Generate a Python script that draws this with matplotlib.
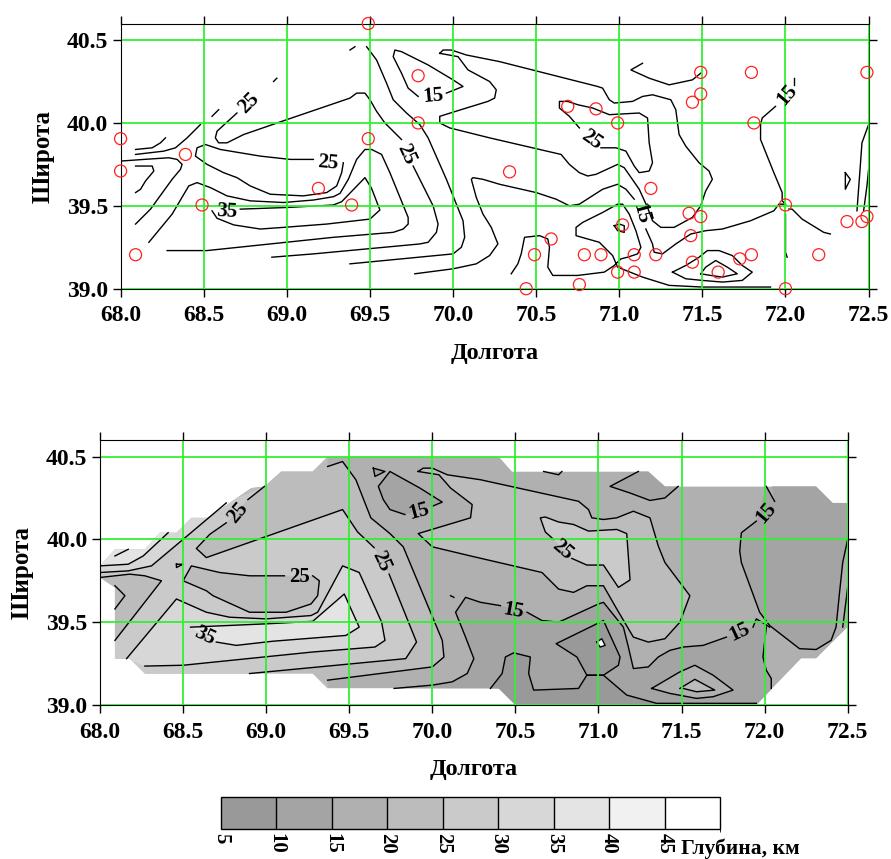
import numpy as np
import matplotlib
matplotlib.use('Agg')
import matplotlib.pyplot as plt
from matplotlib.cm import ScalarMappable
from matplotlib.colors import BoundaryNorm, ListedColormap
from matplotlib.patches import Polygon

plt.rcParams['font.family'] = ['Liberation Serif', 'DejaVu Serif']

# colour scale (depth, km)
levels = [5, 10, 15, 20, 25, 30, 35, 40, 45, 50]
tick_levels = [5, 10, 15, 20, 25, 30, 35, 40, 45]
shades = ['#999999', '#a4a4a4', '#b0b0b0', '#bcbcbc', '#cacaca', '#d7d7d7', '#e4e4e4', '#f1f1f1', '#ffffff']

lon_ticks = [68.0, 68.5, 69.0, 69.5, 70.0, 70.5, 71.0, 71.5, 72.0, 72.5]
lat_ticks = [39.0, 39.5, 40.0, 40.5]

# stations, top map
st_lon = [69.49, 69.79, 69.79, 69.49, 68.0, 68.39, 68.0, 69.19, 68.49, 69.39, 68.09,
          71.49, 71.795, 72.49, 71.49, 71.44, 70.69, 70.86, 70.99, 71.81, 70.34, 71.19,
          72.0, 71.42, 71.49, 72.49, 72.37, 72.46, 71.02, 71.43, 70.59, 70.49, 70.79,
          70.89, 71.09, 71.22, 71.795, 72.2, 71.725, 71.44, 70.99, 71.09, 71.595, 70.76,
          70.44, 72.0]
st_lat = [40.6, 40.285, 40.0, 39.905, 39.905, 39.81, 39.71, 39.605, 39.505, 39.505, 39.205,
          40.305, 40.305, 40.305, 40.175, 40.125, 40.1, 40.085, 40.0, 40.0, 39.705, 39.605,
          39.505, 39.455, 39.435, 39.435, 39.405, 39.405, 39.385, 39.32, 39.3, 39.205, 39.205,
          39.205, 39.205, 39.205, 39.205, 39.205, 39.18, 39.16, 39.1, 39.1, 39.1, 39.025,
          39.0, 39.0]

# isolines of the top map, (lon, lat)
t_a1 = [(69.38, 40.44), (69.41, 40.46)]
t_a2 = [(68.92, 40.25), (68.94, 40.27)]
t_a3 = [(68.55, 40.04), (68.59, 40.08)]
t_a4 = [(68.70, 40.06), (68.58, 39.95), (68.57, 39.91), (68.59, 39.88), (68.64, 39.88), (68.74, 39.93),
        (69.0, 40.02), (69.38, 40.15), (69.42, 40.18), (69.47, 40.18), (69.50, 40.14), (69.54, 40.07),
        (69.59, 40.0), (69.64, 39.95), (69.69, 39.90)]
t_a5 = [(69.76, 39.74), (69.88, 39.5), (69.91, 39.39), (69.90, 39.34), (69.85, 39.28), (69.80, 39.27),
        (69.48, 39.24), (69.16, 39.21), (68.91, 39.19)]
t_b = [(69.48, 40.46), (69.54, 40.38), (69.60, 40.24), (69.64, 40.14), (69.72, 40.06), (69.80, 39.99),
       (69.85, 39.91), (69.96, 39.66), (70.06, 39.41), (70.07, 39.31), (70.05, 39.25), (70.0, 39.21),
       (69.38, 39.15)]
t_c1 = [(69.77, 39.09), (70.0, 39.12), (70.14, 39.15), (70.22, 39.20), (70.27, 39.27), (70.23, 39.37),
        (70.18, 39.45), (70.14, 39.55), (70.11, 39.66), (70.12, 39.67), (70.18, 39.66), (70.28, 39.63),
        (70.5, 39.58), (70.62, 39.54), (70.70, 39.50), (70.76, 39.51), (70.90, 39.60), (70.99, 39.63),
        (71.04, 39.60), (71.09, 39.54)]
t_c2 = [(71.16, 39.36), (71.20, 39.27), (71.21, 39.22), (71.26, 39.21), (71.34, 39.27), (71.43, 39.33),
        (71.52, 39.35), (71.62, 39.36), (71.79, 39.41), (71.93, 39.47), (71.96, 39.51), (72.0, 39.51)]
t_d = [(69.96, 40.18), (70.06, 40.22), (70.0, 40.26), (69.85, 40.35), (69.69, 40.43), (69.65, 40.44),
       (69.64, 40.40), (69.69, 40.30), (69.73, 40.21), (69.79, 40.16)]
t_f = [(69.92, 40.42), (69.94, 40.44), (69.99, 40.44), (70.08, 40.41), (70.28, 40.37), (70.87, 40.22),
       (70.90, 40.21), (70.94, 40.14), (70.97, 40.12), (71.08, 40.13), (71.14, 40.16), (71.20, 40.17),
       (71.31, 40.14), (71.34, 40.08), (71.36, 39.93), (71.40, 39.86), (71.48, 39.76), (71.54, 39.71),
       (71.56, 39.66), (71.52, 39.59), (71.49, 39.50), (71.44, 39.43), (71.33, 39.37), (71.25, 39.37),
       (71.20, 39.41), (71.17, 39.49), (71.12, 39.60), (71.03, 39.73), (70.99, 39.75), (70.86, 39.69),
       (70.81, 39.68), (70.76, 39.70), (70.70, 39.75), (70.65, 39.81), (70.22, 39.91), (69.98, 39.97),
       (69.92, 40.0), (69.92, 40.04), (70.08, 40.09), (70.21, 40.13), (70.25, 40.15), (70.26, 40.20),
       (70.22, 40.25), (70.09, 40.32), (70.03, 40.40), (69.92, 40.42)]
t_g = [(70.89, 39.85), (70.98, 39.85), (71.04, 39.83), (71.09, 39.74), (71.12, 39.70), (71.18, 39.71),
       (71.20, 39.76), (71.18, 39.88), (71.17, 40.03), (71.12, 40.06), (70.94, 40.05), (70.84, 40.09),
       (70.75, 40.11), (70.69, 40.13), (70.64, 40.13), (70.64, 40.09), (70.70, 40.04), (70.76, 39.97)]
t_h = [(71.14, 40.36), (71.07, 40.32), (71.18, 40.27), (71.30, 40.23), (71.44, 40.26), (71.49, 40.30)]
t_i1 = [(72.05, 40.27), (72.05, 40.23)]
t_i2 = [(71.94, 40.10), (71.86, 40.03), (71.85, 39.99), (71.85, 39.90), (71.93, 39.70), (71.98, 39.58),
        (71.98, 39.53), (72.0, 39.51)]
t_j = [(70.35, 39.09), (70.39, 39.15), (70.41, 39.21), (70.43, 39.31), (70.52, 39.32), (70.57, 39.30),
       (70.58, 39.25), (70.57, 39.13), (70.60, 39.08), (70.75, 39.08), (70.91, 39.10), (70.97, 39.14),
       (71.01, 39.18), (71.05, 39.19), (71.11, 39.21), (71.13, 39.25), (71.10, 39.35), (71.06, 39.45),
       (71.02, 39.51), (70.99, 39.51), (70.90, 39.46), (70.78, 39.40), (70.74, 39.37), (70.74, 39.32),
       (70.88, 39.28), (70.96, 39.20), (70.99, 39.13), (71.09, 39.09), (71.14, 39.07), (71.30, 39.02),
       (71.50, 39.01), (71.91, 39.01)]
t_loop = [(70.97, 39.38), (71.0, 39.39), (71.03, 39.38), (71.03, 39.34), (70.99, 39.35), (70.97, 39.38)]
t_k1 = [(71.32, 39.10), (71.40, 39.14), (71.48, 39.19), (71.53, 39.23), (71.60, 39.23), (71.68, 39.20),
        (71.74, 39.14), (71.80, 39.10), (71.74, 39.05), (71.62, 39.04), (71.50, 39.05), (71.40, 39.06),
        (71.32, 39.10)]
t_k2 = [(71.49, 39.09), (71.52, 39.13), (71.58, 39.17), (71.65, 39.13), (71.71, 39.09), (71.62, 39.07),
        (71.55, 39.08), (71.49, 39.09)]
t_l = [(72.0, 39.45), (72.0, 39.22), (72.01, 39.19)]
t_m = [(72.02, 39.48), (72.04, 39.48), (72.10, 39.42), (72.23, 39.34), (72.27, 39.33)]
t_n = [(72.36, 39.70), (72.39, 39.66), (72.36, 39.60), (72.36, 39.70)]
t_o = [(72.43, 39.47), (72.45, 39.74), (72.46, 39.88), (72.50, 39.99)]
t_p = [(72.47, 39.47), (72.49, 39.62), (72.5, 39.72)]
t_q = [(68.09, 39.84), (68.19, 39.85), (68.24, 39.88), (68.27, 39.91)]
t_r = [(68.09, 39.81), (68.26, 39.83), (68.33, 39.85), (68.40, 39.91), (68.48, 39.99)]
t_s = [(68.0, 39.77), (68.14, 39.78), (68.29, 39.79), (68.34, 39.78), (68.37, 39.75), (68.36, 39.72),
       (68.31, 39.66), (68.18, 39.48), (68.09, 39.39)]
t_t = [(68.09, 39.74), (68.19, 39.74), (68.20, 39.71), (68.15, 39.65), (68.12, 39.60), (68.09, 39.58)]
t_u = [(69.16, 39.78), (69.02, 39.78), (68.84, 39.80), (68.60, 39.84), (68.51, 39.87), (68.46, 39.85),
       (68.45, 39.80), (68.52, 39.75), (68.62, 39.70), (68.70, 39.67), (68.78, 39.62), (68.90, 39.57),
       (69.10, 39.56), (69.24, 39.58), (69.30, 39.62), (69.33, 39.70), (69.34, 39.76)]
t_v = [(68.17, 39.28), (68.31, 39.45), (68.41, 39.62), (68.46, 39.64), (68.54, 39.61), (68.64, 39.56),
       (68.78, 39.53), (68.98, 39.52), (69.16, 39.535), (69.28, 39.555), (69.32, 39.575), (69.37, 39.66),
       (69.42, 39.78), (69.47, 39.84), (69.51, 39.84), (69.57, 39.81), (69.62, 39.70), (69.73, 39.43),
       (69.73, 39.39), (69.70, 39.36), (69.64, 39.34), (69.28, 39.31), (68.52, 39.23), (68.28, 39.23)]
t_w = [(68.72, 39.48), (69.0, 39.49), (69.28, 39.505), (69.33, 39.525), (69.47, 39.67), (69.51, 39.605),
       (69.56, 39.475), (69.50, 39.42), (69.24, 39.39), (68.98, 39.37), (68.84, 39.36), (68.68, 39.385),
       (68.58, 39.425), (68.55, 39.47)]
top_lines = [t_a1, t_a2, t_a3, t_a4, t_a5, t_b, t_c1, t_c2, t_d, t_f, t_g, t_h, t_i1, t_i2, t_j, t_loop,
             t_k1, t_k2, t_l, t_m, t_n, t_o, t_p, t_q, t_r, t_s, t_t, t_u, t_v, t_w]

top_lab_pos = [(68.77, 40.12), (69.72, 39.81), (69.88, 40.16), (69.25, 39.76), (68.64, 39.465),
               (70.83, 39.90), (71.13, 39.45), (72.01, 40.17)]
top_lab_txt = ['25', '25', '15', '25', '35', '25', '15', '15']
top_lab_rot = [45, -65, 5, -5, -3, -35, -75, 50]

# filled map: outline of the area with data
outline = [(68.0, 39.84), (68.09, 39.94), (68.27, 39.94), (68.36, 40.04), (68.46, 40.04), (68.55, 40.13),
           (68.65, 40.13), (68.91, 40.31), (68.99, 40.32), (69.09, 40.41), (69.28, 40.41), (69.37, 40.5),
           (70.40, 40.5), (70.48, 40.41), (71.30, 40.41), (71.40, 40.32), (72.31, 40.32), (72.41, 40.22),
           (72.5, 40.22), (72.5, 39.47), (72.31, 39.28), (72.22, 39.28), (71.95, 39.0), (70.5, 39.0),
           (70.40, 39.10), (69.37, 39.10), (69.28, 39.19), (68.27, 39.19), (68.18, 39.28), (68.09, 39.28),
           (68.09, 39.71), (68.0, 39.77)]

# isolines of the filled map
b_tiny1 = [(68.09, 39.90), (68.17, 39.94)]
b_q = [(68.0, 39.84), (68.17, 39.85), (68.26, 39.90), (68.41, 40.04)]
b_r = [(68.0, 39.80), (68.17, 39.81), (68.31, 39.84), (68.50, 40.0), (68.76, 40.22)]
b_s = [(68.0, 39.77), (68.18, 39.79), (68.27, 39.78), (68.37, 39.75), (68.09, 39.39)]
b_t = [(68.09, 39.72), (68.15, 39.66), (68.09, 39.58)]
b_a1 = [(68.99, 40.32), (68.89, 40.24)]
b_a2 = [(68.76, 40.10), (68.66, 40.03), (68.58, 39.945), (68.64, 39.89), (69.46, 40.18), (69.55, 40.045),
        (69.65, 39.95)]
b_a3 = [(69.74, 39.79), (69.905, 39.38), (69.84, 39.28), (68.90, 39.19)]
b_u = [(69.11, 39.78), (68.90, 39.78), (68.72, 39.80), (68.55, 39.84), (68.50, 39.75), (68.64, 39.69),
       (68.68, 39.66), (68.90, 39.56), (69.12, 39.56), (69.27, 39.61), (69.31, 39.66), (69.32, 39.75),
       (69.28, 39.78)]
b_v = [(68.16, 39.28), (68.46, 39.64), (68.64, 39.56), (68.78, 39.53), (69.0, 39.52), (69.27, 39.54),
       (69.31, 39.56), (69.46, 39.84), (69.56, 39.80), (69.695, 39.50), (69.715, 39.39), (69.655, 39.35),
       (69.28, 39.32), (68.50, 39.24), (68.27, 39.235)]
b_w = [(68.70, 39.38), (68.82, 39.36), (69.04, 39.385), (69.48, 39.42), (69.56, 39.47), (69.47, 39.67),
       (69.28, 39.505), (69.0, 39.49), (68.545, 39.47)]
b_b = [(69.37, 40.44), (69.46, 40.47), (69.54, 40.36), (69.63, 40.13), (69.745, 40.035), (69.825, 39.955),
       (70.06, 39.39), (70.07, 39.29), (70.0, 39.23), (69.37, 39.15)]
b_c1 = [(69.77, 39.10), (70.0, 39.12), (70.12, 39.14), (70.21, 39.19), (70.25, 39.28), (70.20, 39.41),
        (70.14, 39.56), (70.20, 39.65), (70.29, 39.62), (70.41, 39.60)]
b_c2 = [(70.57, 39.56), (70.66, 39.51), (70.76, 39.50), (71.0, 39.61), (71.03, 39.62), (71.15, 39.47),
        (71.18, 39.35), (71.21, 39.22), (71.30, 39.23), (71.36, 39.29), (71.43, 39.33), (71.51, 39.35),
        (71.63, 39.36), (71.77, 39.41)]
b_c3 = [(71.93, 39.47), (71.95, 39.52), (72.0, 39.49), (72.03, 39.47)]
b_vert = [(72.01, 39.47), (71.99, 39.29), (72.01, 39.21), (72.04, 39.16), (72.04, 39.10)]
b_i1 = [(72.01, 40.32), (72.06, 40.23)]
b_i2 = [(71.95, 40.11), (71.86, 40.04), (71.85, 39.93), (71.86, 39.86), (71.97, 39.56), (72.03, 39.48),
        (72.21, 39.34), (72.31, 39.335), (72.40, 39.39), (72.43, 39.47), (72.45, 39.67), (72.47, 39.86),
        (72.5, 40.0)]
b_i3 = [(72.47, 39.47), (72.5, 39.71)]
b_f = [(69.915, 40.41), (69.945, 40.43), (70.0, 40.43), (70.09, 40.39), (70.29, 40.36), (70.88, 40.23),
       (70.94, 40.18), (70.96, 40.13), (71.03, 40.12), (71.11, 40.13), (71.21, 40.17), (71.31, 40.13),
       (71.36, 39.96), (71.40, 39.86), (71.55, 39.66), (71.49, 39.50), (71.40, 39.40), (71.30, 39.38),
       (71.21, 39.41), (71.11, 39.58), (71.03, 39.72), (70.93, 39.72), (70.85, 39.68), (70.76, 39.70),
       (70.66, 39.80), (70.23, 39.90), (70.0, 39.955), (69.915, 40.035), (70.23, 40.13), (70.24, 40.21),
       (70.11, 40.31), (70.04, 40.39), (69.915, 40.41)]
b_g1 = [(70.84, 39.885), (70.93, 39.845), (71.03, 39.845), (71.12, 39.71), (71.19, 39.755), (71.17, 40.035),
        (71.11, 40.06), (70.94, 40.05), (70.85, 40.09), (70.76, 40.105), (70.68, 40.135), (70.65, 40.13),
        (70.68, 40.045), (70.73, 40.0)]
b_h = [(71.24, 40.41), (71.07, 40.32), (71.19, 40.28), (71.31, 40.235), (71.40, 40.25), (71.48, 40.32)]
b_tiny2 = [(70.67, 40.41), (70.76, 40.39), (70.78, 40.41)]
b_d1 = [(69.645, 40.43), (69.655, 40.38), (69.715, 40.41), (69.645, 40.43)]
b_d2 = [(69.835, 40.15), (69.745, 40.18), (69.705, 40.24), (69.675, 40.32), (69.745, 40.41), (69.925, 40.31),
        (70.06, 40.225), (70.0, 40.20)]
b_tri = [(70.93, 39.18), (70.87, 39.29), (70.745, 39.37), (71.03, 39.51), (71.13, 39.29), (71.12, 39.24),
         (71.03, 39.18), (70.93, 39.18)]
b_lobe = [(70.35, 39.10), (70.42, 39.19), (70.44, 39.29), (70.49, 39.315), (70.59, 39.29), (70.58, 39.19),
          (70.61, 39.09), (70.88, 39.10), (70.93, 39.18), (71.03, 39.18), (71.17, 39.06), (71.35, 39.01),
          (71.95, 39.01)]
b_k1 = [(71.32, 39.10), (71.49, 39.20), (71.58, 39.24), (71.69, 39.18), (71.81, 39.09), (71.69, 39.05),
        (71.59, 39.04), (71.43, 39.07), (71.32, 39.10)]
b_k2 = [(71.49, 39.10), (71.58, 39.155), (71.70, 39.09), (71.59, 39.08), (71.51, 39.10)]
b_spot = [(70.99, 39.38), (71.02, 39.40), (71.04, 39.36), (71.01, 39.35), (70.99, 39.38)]
b_tiny3 = [(68.46, 39.85), (68.50, 39.85), (68.46, 39.83), (68.46, 39.85)]
b_tiny4 = [(70.11, 39.66), (70.13, 39.65)]
bot_lines = [b_tiny1, b_q, b_r, b_s, b_t, b_a1, b_a2, b_a3, b_u, b_v, b_w, b_b, b_c1, b_c2, b_c3, b_vert,
             b_i1, b_i2, b_i3, b_f, b_g1, b_h, b_tiny2, b_d1, b_d2, b_tri, b_lobe, b_k1, b_k2, b_spot,
             b_tiny3, b_tiny4]

bot_lab_pos = [(68.83, 40.16), (69.69, 39.87), (69.92, 40.17), (69.20, 39.77), (68.63, 39.42),
               (70.785, 39.935), (70.49, 39.57), (71.85, 39.44), (72.01, 40.16)]
bot_lab_txt = ['25', '25', '15', '25', '35', '25', '15', '15', '15']
bot_lab_rot = [50, -65, 15, 0, -25, -40, -10, 25, 50]

GREEN = '#30f030'
W, H = 891.0, 859.0


def make_axes(left, right, top, bottom):
    ax = fig.add_axes([left / W, 1 - bottom / H, (right - left) / W, (bottom - top) / H])
    ax.set_xlim(68.0, 72.5)
    ax.set_ylim(39.0, 40.6)
    ax.set_xticks(lon_ticks)
    ax.set_yticks(lat_ticks)
    ax.xaxis.set_major_formatter('{x:.1f}')
    ax.yaxis.set_major_formatter('{x:.1f}')
    ax.tick_params(top=True, right=True, length=6, width=1, labelsize=17, pad=3)
    ax.tick_params(axis='x', pad=6)
    for lab in ax.get_xticklabels() + ax.get_yticklabels():
        lab.set_fontweight('bold')
    ax.set_axisbelow(False)
    ax.grid(True, color=GREEN, lw=1.3)
    ax.spines['bottom'].set_zorder(1.5)
    ax.spines['left'].set_zorder(4)
    ax.spines['top'].set_zorder(4)
    ax.spines['right'].set_zorder(4)
    return ax


def draw_lines(ax, lines):
    for ln in lines:
        arr = np.array(ln)
        ax.plot(arr[:, 0], arr[:, 1], color='black', lw=1.0, zorder=2, solid_joinstyle='round')


def draw_labels(ax, pos, txt, rot):
    for (x, y), s, r in zip(pos, txt, rot):
        ax.text(x, y, s, rotation=r, ha='center', va='center', fontsize=15, fontweight='bold',
                rotation_mode='anchor', zorder=3)


fig = plt.figure(figsize=(8.91, 8.59), dpi=100)

# top map
ax1 = make_axes(120.6, 868.6, 23.5, 288.7)
ax1.spines['right'].set_color('#106010')
draw_lines(ax1, top_lines)
ax1.scatter(st_lon, st_lat, s=75, facecolors='none', edgecolors='#ff2020', linewidths=0.9, zorder=5, clip_on=False)
draw_labels(ax1, top_lab_pos, top_lab_txt, top_lab_rot)
ax1.set_xlabel('Долгота', fontsize=17.5, fontweight='bold', labelpad=12)
ax1.set_ylabel('Широта', fontsize=18, fontweight='bold', labelpad=9)

# filled map, painted from the back to the front and cut to the outline
ax2 = make_axes(100.0, 847.7, 440.0, 705.0)
clip = Polygon(outline, closed=True, transform=ax2.transData)


def paint(points, colour):
    arr = np.array(points)
    p = ax2.fill(arr[:, 0], arr[:, 1], color=colour, lw=0, zorder=1)[0]
    p.set_clip_path(clip)


paint(outline, shades[2])
paint(b_b + [(69.37, 39.0), (68.0, 39.0), (68.0, 40.5), (69.37, 40.5)], shades[3])
paint(b_a3[::-1] + b_a2[::-1] + b_a1[::-1] + b_r[::-1] + [(68.0, 39.0), (68.9, 39.0)], shades[4])
paint(b_r + [(68.76, 40.5), (68.0, 40.5)], shades[5])
paint(b_q + [(68.41, 40.5), (68.0, 40.5)], shades[6])
paint(b_s + [(68.0, 39.3)], shades[3])
paint(b_u, shades[3])
paint(b_v, shades[5])
paint(b_w, shades[6])
paint(b_f, shades[3])
paint(b_g1, shades[4])
paint(b_c1 + b_c2 + b_c3[:3] + b_vert + [(72.04, 39.0), (69.77, 39.0)], shades[1])
paint(b_i1[::-1] + b_i2 + [(72.5, 40.5), (72.01, 40.5)], shades[1])
paint(b_h + [(71.48, 40.5), (71.24, 40.5)], shades[1])
paint(b_d1, shades[1])
paint(b_d2, shades[1])
paint(b_tri, shades[0])
paint(b_lobe + [(71.95, 39.0), (70.35, 39.0)], shades[0])
paint(b_k1, shades[2])
paint(b_k2, shades[3])
paint(b_spot, '#ffffff')

draw_lines(ax2, bot_lines)
draw_labels(ax2, bot_lab_pos, bot_lab_txt, bot_lab_rot)
ax2.set_xlabel('Долгота', fontsize=17.5, fontweight='bold', labelpad=12)
ax2.set_ylabel('Широта', fontsize=18, fontweight='bold', labelpad=9)

# colour bar
cax = fig.add_axes([221 / W, 1 - 828.7 / H, 499 / W, 31.4 / H])
norm = BoundaryNorm(levels, len(shades))
cb = fig.colorbar(ScalarMappable(norm=norm, cmap=ListedColormap(shades)), cax=cax, orientation='horizontal',
                  drawedges=True, ticks=tick_levels, spacing='uniform')
cb.dividers.set_color('black')
cb.dividers.set_linewidth(1.0)
cb.outline.set_linewidth(1.0)
cb.ax.tick_params(length=0, pad=3)
cb.ax.set_xticklabels([str(v) for v in tick_levels], rotation=270, fontsize=15, fontweight='bold')
fig.text(681 / W, 1 - 849 / H, 'Глубина, км', fontsize=15.5, fontweight='bold', va='center', ha='left')

fig.savefig('out.png', dpi=100)
